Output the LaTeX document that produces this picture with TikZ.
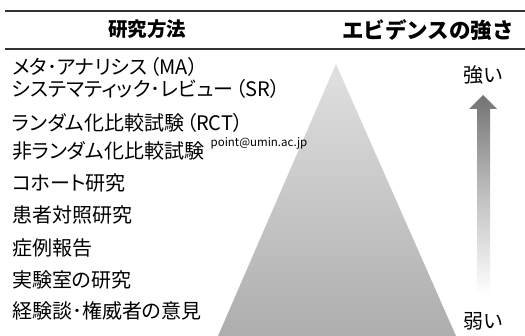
\documentclass[tikz,border=0pt]{standalone}
\usepackage{fontspec}
\setmainfont{Noto Sans CJK JP}
\newfontfamily\propjp[RawFeature=+palt]{Noto Sans CJK JP}
\usetikzlibrary{shadings}
\begin{document}
\begin{tikzpicture}[x=1pt,y=-1pt,
  rowtext/.style={anchor=west,inner sep=0pt,font=\propjp\fontsize{20}{22}\selectfont,text=black},
  headtext/.style={inner sep=0pt,font=\fontsize{19.5}{22}\selectfont\bfseries,text=black},
  rule/.style={draw=black!80,line width=1.3pt}]
\useasboundingbox (0,0) rectangle (525,336);
\fill[white] (0,0) rectangle (525,336);
% pyramid
\shade[top color=black!12,bottom color=black!32] (336,64) -- (456,336) -- (218,336) -- cycle;
% arrow
\shade[top color=black!55,bottom color=white,middle color=black!25]
  (483,95) -- (497,109) -- (490,109) -- (490,294) -- (477,294) -- (477,109) -- (469,109) -- cycle;
% rules
\coordinate (r1a) at (5,11); \coordinate (r1b) at (525,11);
\coordinate (r2a) at (5,49); \coordinate (r2b) at (525,49);
\draw[rule] (r1a) -- (r1b);
\draw[rule] (r2a) -- (r2b);
% headers
\node[headtext] (h1) at (147,29) {研究方法};
\node[headtext,font=\fontsize{21.5}{24}\selectfont\bfseries] (h2) at (428,30) {エビデンスの強さ};
% rows
\node[rowtext] (t1) at (12,67) {メタ･アナリシス\hspace{2pt}（MA）};
\node[rowtext] (t2) at (12,89) {システマティック･レビュー\hspace{2pt}（SR）};
\node[rowtext] (t3) at (12,123) {ランダム化比較試験\hspace{2pt}（RCT）};
\node[rowtext] (t4) at (12,151) {非ランダム化比較試験};
\node[anchor=west,inner sep=0pt,font=\fontsize{11.5}{13}\selectfont] (mail) at (t4.east) [xshift=6pt,yshift=8pt] {point@umin.ac.jp};
\node[rowtext] (t5) at (12,183) {コホート研究};
\node[rowtext] (t6) at (12,215) {患者対照研究};
\node[rowtext] (t7) at (12,248) {症例報告};
\node[rowtext] (t8) at (12,280) {実験室の研究};
\node[rowtext] (t9) at (12,311) {経験談･権威者の意見};
% strength labels
\node[rowtext,anchor=center] (s1) at (483,75) {強い};
\node[rowtext,anchor=center] (s2) at (483,321) {弱い};
\end{tikzpicture}
\end{document}
